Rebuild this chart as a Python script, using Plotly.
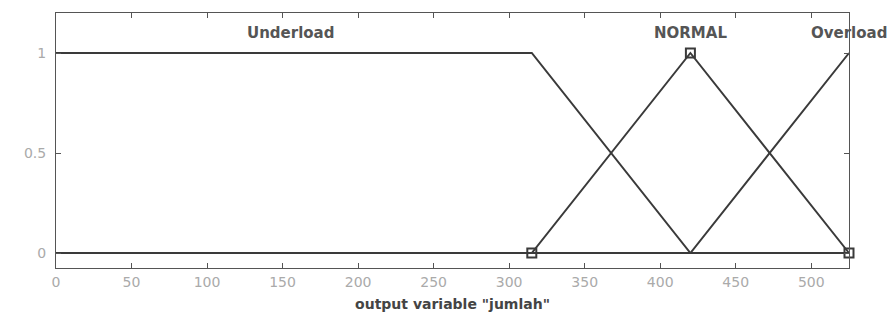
import plotly.graph_objects as go

# Membership function breakpoints (output variable "jumlah")
underload_x = [0, 315, 420, 525]
underload_y = [1, 1, 0, 0]
normal_x = [0, 315, 420, 525]
normal_y = [0, 0, 1, 0]
overload_x = [0, 420, 525]
overload_y = [0, 0, 1]
marker_x = [315, 420, 525]
marker_y = [0, 1, 0]

mf_labels = ["Underload", "NORMAL", "Overload"]
label_x = [155, 420, 525]

x_ticks = [0, 50, 100, 150, 200, 250, 300, 350, 400, 450, 500]
y_ticks = [0, 0.5, 1]
y_tick_text = ["0", "0.5", "1"]

line_color = "#3a3a3a"

fig = go.Figure()
for xs, ys in [(underload_x, underload_y), (normal_x, normal_y), (overload_x, overload_y)]:
    fig.add_trace(go.Scatter(x=xs, y=ys, mode="lines",
                             line=dict(color=line_color, width=2), showlegend=False,
                             hoverinfo="skip"))
fig.add_trace(go.Scatter(x=marker_x, y=marker_y, mode="markers",
                         marker=dict(symbol="square-open", size=9,
                                     color=line_color, line=dict(width=2)),
                         showlegend=False, cliponaxis=False))

for lbl, lx in zip(mf_labels, label_x):
    fig.add_annotation(x=lx, y=1.1, text=lbl, showarrow=False,
                       xref="x", yref="y",
                       font=dict(family="DejaVu Sans", size=15, color="#555",
                                 weight="bold"))

fig.update_layout(
    width=896, height=321,
    margin=dict(l=48, r=55, t=5, b=61),
    paper_bgcolor="white", plot_bgcolor="white",
    font=dict(family="DejaVu Sans"),
)
fig.update_xaxes(range=[0, 525], tickvals=x_ticks, ticks="inside", ticklen=5,
                 tickcolor="#555", showline=True, linecolor="#555", linewidth=1,
                 mirror="allticks", showgrid=False, zeroline=False,
                 tickfont=dict(size=14, color="#aaa"), ticklabelstandoff=1,
                 title=dict(text='output variable "jumlah"', standoff=10,
                            font=dict(size=14, color="#444", weight="bold")))
fig.update_yaxes(range=[-0.075, 1.2], tickvals=y_ticks, ticktext=y_tick_text,
                 ticks="inside", ticklen=5, tickcolor="#555",
                 showline=True, linecolor="#555", linewidth=1, mirror="allticks",
                 showgrid=False, zeroline=False, ticklabelstandoff=6,
                 tickfont=dict(size=14, color="#aaa"))

fig.write_html("out.html")
